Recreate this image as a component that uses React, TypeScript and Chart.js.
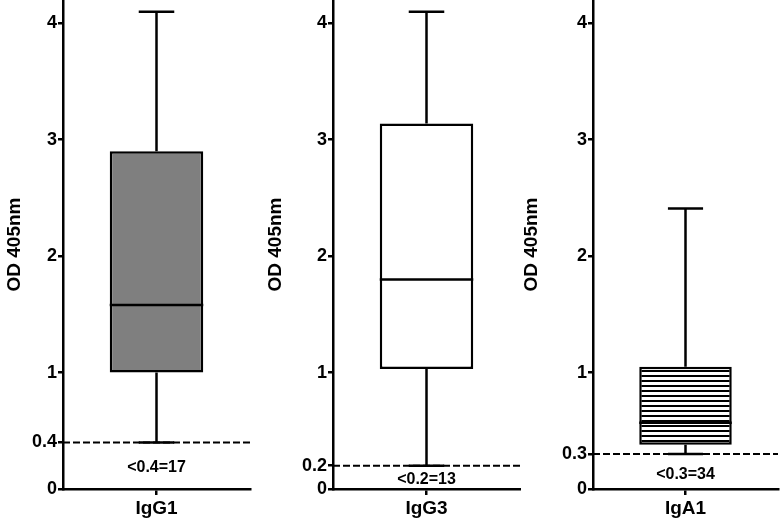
import React, { useEffect, useRef } from "react";
import { Chart, registerables } from "chart.js";

Chart.register(...registerables);

// ---- data ----
const categories = ["IgG1", "IgG3", "IgA1"];
const minValues = [0.4, 0.2, 0.3];
const q1Values = [1.0, 1.03, 0.38];
const medianValues = [1.58, 1.8, 0.57];
const q3Values = [2.9, 3.14, 1.05];
const maxValues = [4.1, 4.1, 2.41];
const cutoffValues = [0.4, 0.2, 0.3];
const cutoffLabels = ["<0.4=17", "<0.2=13", "<0.3=34"];
const cutoffLabelY = [0.18, 0.08, 0.12];
const yTickValues = [
  [0, 0.4, 1, 2, 3, 4],
  [0, 0.2, 1, 2, 3, 4],
  [0, 0.3, 1, 2, 3, 4],
];
const yTitle = "OD 405nm";
const yMin = 0;
const yMax = 4.2;

// ---- layout / style ----
const FAMILY = '"Liberation Sans", Arial, Helvetica, sans-serif';
const LW = 2.5;
const panels = [
  { left: 0, width: 252, axisW: 63, titlePad: 3, padRight: 2, fill: "gray" },
  { left: 260, width: 261, axisW: 73, titlePad: 4, padRight: 1, fill: "white" },
  { left: 520, width: 261, axisW: 73, titlePad: 0, padRight: 3, fill: "hatch" },
];
const HEIGHT = 529;

function Panel({ index }: { index: number }) {
  const ref = useRef<HTMLCanvasElement | null>(null);
  const p = panels[index];

  useEffect(() => {
    const canvas = ref.current!;
    const ctx2 = canvas.getContext("2d")!;
    let bg: any = "#ffffff";
    if (p.fill === "gray") bg = "#7f7f7f";
    if (p.fill === "hatch") {
      const pc = document.createElement("canvas");
      pc.width = 8;
      pc.height = 5;
      const pctx = pc.getContext("2d")!;
      pctx.fillStyle = "#ffffff";
      pctx.fillRect(0, 0, 8, 5);
      pctx.fillStyle = "#000000";
      pctx.fillRect(0, 0, 8, 2);
      bg = ctx2.createPattern(pc, "repeat");
    }

    const extras = {
      id: "boxExtras" + index,
      afterDatasetsDraw(chart: any) {
        const { ctx, chartArea } = chart;
        const ys = chart.scales.y;
        const bar = chart.getDatasetMeta(0).data[0];
        const cx = bar.x;
        const w = bar.width;
        const cap = w * 0.38;
        const py = (v: number) => ys.getPixelForValue(v);
        ctx.save();
        ctx.strokeStyle = "#000";
        ctx.lineWidth = LW;
        ctx.beginPath();
        ctx.moveTo(cx, py(q3Values[index]));
        ctx.lineTo(cx, py(maxValues[index]));
        ctx.moveTo(cx - cap / 2, py(maxValues[index]));
        ctx.lineTo(cx + cap / 2, py(maxValues[index]));
        ctx.moveTo(cx, py(q1Values[index]));
        ctx.lineTo(cx, py(minValues[index]));
        ctx.moveTo(cx - cap / 2, py(minValues[index]));
        ctx.lineTo(cx + cap / 2, py(minValues[index]));
        ctx.moveTo(cx - w / 2, py(medianValues[index]));
        ctx.lineTo(cx + w / 2, py(medianValues[index]));
        ctx.stroke();

        ctx.setLineDash([7, 3]);
        ctx.lineWidth = 2;
        ctx.beginPath();
        ctx.moveTo(chartArea.left, py(cutoffValues[index]));
        ctx.lineTo(chartArea.right, py(cutoffValues[index]));
        ctx.stroke();
        ctx.setLineDash([]);

        ctx.font = `bold 16px ${FAMILY}`;
        ctx.fillStyle = "#000";
        ctx.textAlign = "center";
        ctx.textBaseline = "middle";
        ctx.fillText(cutoffLabels[index], cx, py(cutoffLabelY[index]));
        ctx.restore();
      },
    };

    const chart = new Chart(canvas, {
      type: "bar",
      data: {
        labels: [categories[index]],
        datasets: [
          {
            data: [[q1Values[index], q3Values[index]]] as any,
            backgroundColor: bg,
            borderColor: "#000",
            borderWidth: LW,
            borderSkipped: false,
            barPercentage: 0.5,
            categoryPercentage: 1,
          } as any,
        ],
      },
      options: {
        responsive: false,
        animation: false,
        layout: { padding: { left: 0, right: p.padRight, top: 0, bottom: 0 } },
        plugins: { legend: { display: false }, tooltip: { enabled: false } },
        scales: {
          x: {
            offset: true,
            ticks: {
              font: { size: 19, weight: "bold", family: FAMILY },
              color: "#000",
              padding: 2,
            },
            grid: {
              offset: false,
              drawOnChartArea: false,
              drawTicks: true,
              tickLength: 6,
              color: "#000",
              lineWidth: LW,
            },
            border: { display: true, color: "#000", width: LW },
            afterFit: (s: any) => {
              s.height = 40;
              s.paddingLeft = 0;
              s.paddingRight = 0;
            },
          } as any,
          y: {
            min: yMin,
            max: yMax,
            afterBuildTicks: (s: any) => {
              s.ticks = yTickValues[index].map((v) => ({ value: v }));
            },
            ticks: {
              font: { size: 18, weight: "bold", family: FAMILY },
              color: "#000",
              padding: 1,
              autoSkip: false,
              callback: (v: any) => String(v),
            },
            grid: {
              drawOnChartArea: false,
              drawTicks: true,
              tickLength: 5,
              color: "#000",
              lineWidth: LW,
            },
            border: { display: true, color: "#000", width: LW },
            title: {
              display: true,
              text: yTitle,
              color: "#000",
              font: { size: 19, weight: "bold", family: FAMILY },
              padding: { top: p.titlePad, bottom: 0 },
            },
            afterFit: (s: any) => {
              s.width = p.axisW;
              s.paddingTop = 0;
              s.paddingBottom = 0;
            },
          } as any,
        },
      },
      plugins: [extras],
    });
    return () => chart.destroy();
  }, [index]);

  return (
    <canvas
      ref={ref}
      width={p.width}
      height={HEIGHT}
      style={{ position: "absolute", left: p.left, top: 0, width: p.width, height: HEIGHT }}
    />
  );
}

export default function App() {
  return (
    <div
      style={{
        position: "fixed",
        left: 0,
        top: 0,
        width: 781,
        height: HEIGHT,
        background: "#fff",
        overflow: "hidden",
      }}
    >
      {categories.map((_, i) => (
        <Panel key={i} index={i} />
      ))}
    </div>
  );
}
